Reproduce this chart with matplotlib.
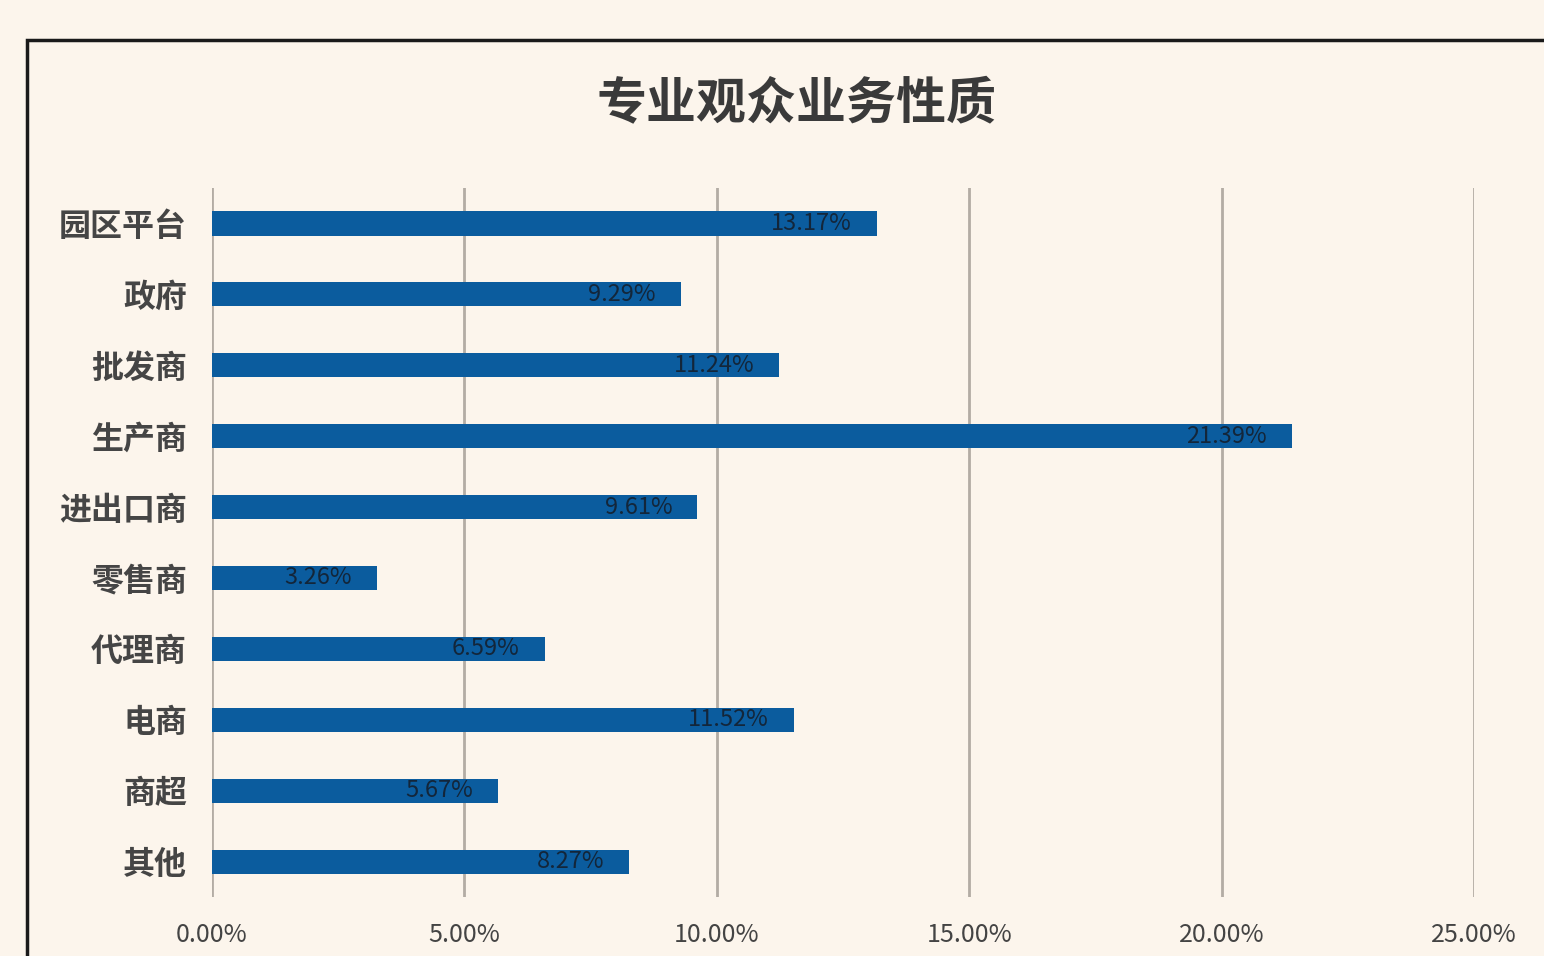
import numpy as np
import matplotlib
matplotlib.use("Agg")
import matplotlib.pyplot as plt
from matplotlib.patches import Rectangle

plt.rcParams['font.family'] = ['Noto Sans CJK SC', 'DejaVu Sans']

# data
categories = ['园区平台', '政府', '批发商', '生产商', '进出口商', '零售商', '代理商', '电商', '商超', '其他']
shares = [13.17, 9.29, 11.24, 21.39, 9.61, 3.26, 6.59, 11.52, 5.67, 8.27]
xticks = [0, 5, 10, 15, 20, 25]

bg = '#fcf5ec'
bar_color = '#0b5c9e'

fig = plt.figure(figsize=(15.44, 9.56), dpi=100, facecolor=bg)
ax = fig.add_axes([0.1373, 0.0617, 0.8174, 0.7416])
ax.set_facecolor(bg)

# outer frame, cut off at right and bottom like the screenshot
frame = Rectangle((27/1544, -0.05), 1.2, 1 - 40/956 + 0.05, transform=fig.transFigure,
                  fill=False, edgecolor='#1a1a1a', linewidth=2.5, clip_on=False)
fig.patches.append(frame)

y = np.arange(len(categories))
ax.barh(y, shares, height=0.34, color=bar_color, zorder=3)

for yi, v in zip(y, shares):
    ax.annotate(f'{v:.2f}%', xy=(v, yi), xytext=(-18, 0), textcoords='offset points',
                ha='right', va='center', fontsize=17, color='#13263a', zorder=4)

ax.set_xlim(0, 25)
ax.set_ylim(len(categories) - 0.5, -0.5)
ax.set_xticks(xticks)
ax.set_xticklabels([f'{t:.2f}%' for t in xticks], fontsize=18, color='#444444')
ax.set_yticks(y)
ax.set_yticklabels(categories, fontsize=23, color='#454545', fontweight='bold')
ax.tick_params(length=0, pad=18)
ax.tick_params(axis='x', pad=18)
ax.xaxis.grid(True, color='#b3aca4', linewidth=2, zorder=0)
for s in ax.spines.values():
    s.set_visible(False)

fig.text(797/1544, 1 - 105/956, '专业观众业务性质', ha='center', va='center',
         fontsize=36, color='#3a3a3a', fontweight='bold')

fig.savefig('out.png', dpi=100, facecolor=bg)
